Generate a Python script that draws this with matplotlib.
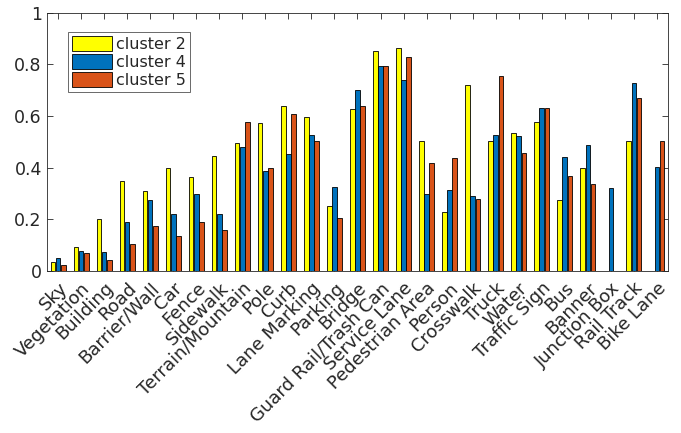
import numpy as np
import matplotlib
matplotlib.use("Agg")
import matplotlib.pyplot as plt

categories = ["Sky", "Vegetation", "Building", "Road", "Barrier/Wall", "Car", "Fence",
              "Sidewalk", "Terrain/Mountain", "Pole", "Curb", "Lane Marking", "Parking",
              "Bridge", "Guard Rail/Trash Can", "Service Lane", "Pedestrian Area", "Person",
              "Crosswalk", "Truck", "Water", "Traffic Sign", "Bus", "Banner", "Junction Box",
              "Rail Track", "Bike Lane"]

cluster2 = [0.035, 0.093, 0.200, 0.349, 0.310, 0.399, 0.364, 0.446, 0.494, 0.571, 0.640,
            0.597, 0.251, 0.626, 0.853, 0.864, 0.503, 0.229, 0.720, 0.503, 0.533, 0.575,
            0.274, 0.399, 0.0, 0.503, 0.0]
cluster4 = [0.048, 0.078, 0.074, 0.190, 0.273, 0.220, 0.296, 0.220, 0.481, 0.388, 0.452,
            0.526, 0.323, 0.700, 0.795, 0.739, 0.296, 0.312, 0.290, 0.526, 0.522, 0.629,
            0.442, 0.487, 0.319, 0.729, 0.403]
cluster5 = [0.022, 0.067, 0.040, 0.105, 0.174, 0.136, 0.190, 0.159, 0.578, 0.399, 0.606,
            0.503, 0.205, 0.640, 0.795, 0.829, 0.416, 0.438, 0.278, 0.755, 0.457, 0.629,
            0.366, 0.335, 0.0, 0.671, 0.503]

series = [("cluster 2", cluster2, "#FFFF00"),
          ("cluster 4", cluster4, "#0072BD"),
          ("cluster 5", cluster5, "#D95319")]

axis_gray = "#262626"
plt.rcParams["font.family"] = "DejaVu Sans"

fig = plt.figure(figsize=(6.81, 4.33), dpi=100)
ax = fig.add_axes([0.0686, 0.3748, 0.9127, 0.5959])

x = np.arange(1, len(categories) + 1)
slot = 0.222
bar_w = 0.19
for i, (name, vals, col) in enumerate(series):
    ax.bar(x + (i - 1) * slot, vals, width=bar_w, color=col,
           edgecolor="black", linewidth=0.6, label=name, zorder=2)

ax.set_xlim(0.5, len(categories) + 0.5)
ax.set_ylim(0, 1)
ax.set_yticks([0, 0.2, 0.4, 0.6, 0.8, 1.0])
ax.set_yticklabels(["0", "0.2", "0.4", "0.6", "0.8", "1"])
ax.set_xticks(x)
ax.set_xticklabels(categories, rotation=45, ha="right", rotation_mode="anchor")

ax.tick_params(axis="both", direction="in", length=4, width=0.6, color=axis_gray,
               labelcolor=axis_gray, labelsize=12.5, top=True, right=True)
ax.tick_params(axis="x", pad=6, labelsize=13)
for sp in ax.spines.values():
    sp.set_color(axis_gray)
    sp.set_linewidth(0.6)

leg = ax.legend(loc="upper left", bbox_to_anchor=(0.035, 0.926), borderaxespad=0,
                fontsize=11.5, frameon=True, fancybox=False, handlelength=2.5,
                handleheight=1.1, labelspacing=0.12, handletextpad=0.25,
                borderpad=0.25)
leg.get_frame().set_edgecolor(axis_gray)
leg.get_frame().set_linewidth(0.6)
for t in leg.get_texts():
    t.set_color(axis_gray)

fig.savefig("out.png", dpi=100)
